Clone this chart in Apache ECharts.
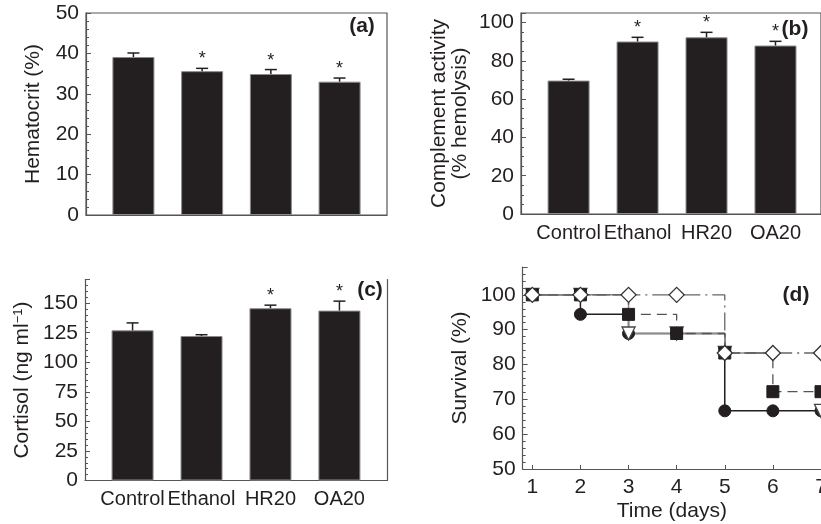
<!DOCTYPE html>
<html>
<head>
<meta charset="utf-8">
<script src="https://cdn.jsdelivr.net/npm/echarts@6/dist/echarts.min.js"></script>
<style>
  html, body { margin: 0; padding: 0; background: #fff; }
  #chart { width: 821px; height: 524px; }
</style>
</head>
<body>
<div id="chart"></div>
<script>
// 数据
const groups = ['Control', 'Ethanol', 'HR20', 'OA20'];

const hematocrit = [39.1, 35.6, 34.9, 33.0];
const hematocritErr = [1.0, 0.7, 1.1, 0.9];
const hematocritSig = [0, 1, 1, 1];

const complement = [69.7, 90.1, 92.3, 88.0];
const complementErr = [0.7, 2.2, 2.6, 2.2];
const complementSig = [0, 1, 1, 1];

const cortisol = [127.0, 122.2, 145.7, 143.7];
const cortisolErr = [6.3, 1.1, 2.6, 8.0];
const cortisolSig = [0, 0, 1, 1];

const days = [1, 2, 3, 4, 5, 6, 7];
const survCircle = [100, 94.4, 88.9, 88.9, 66.7, 66.7, 66.7];
const survTriangle = [100, 100, 88.9, 88.9, 83.3, null, 66.7];
const survSquare = [100, 100, 94.4, 88.9, 83.3, 72.2, 72.2];
const survDiamond = [100, 100, 100, 100, 83.3, 83.3, 83.3];

const FONT = "'Liberation Sans', Arial, sans-serif";
const INK = '#231f20';
const AXIS = '#555';

const axisLine = { show: true, onZero: false, lineStyle: { color: AXIS, width: 1.2 } };

// 柱状图的x轴（数值轴，类别放在1..4）
function barX(gridIndex, showLabels, max) {
  return {
    type: 'value', gridIndex, min: 0.31, max: max,
    axisLine,
    axisTick: { show: false },
    splitLine: { show: false },
    axisLabel: {
      show: showLabels, customValues: [1, 2, 3, 4], interval: 0,
      showMinLabel: true, showMaxLabel: true, hideOverlap: false,
      formatter: v => groups[Math.round(v) - 1] || '',
      color: INK, fontSize: 20, fontFamily: FONT, margin: 9
    }
  };
}

function valY(gridIndex, min, max, interval, minorSplit, name, nameGap) {
  return {
    type: 'value', gridIndex, min, max, interval,
    name, nameLocation: 'middle', nameGap,
    nameTextStyle: { color: INK, fontSize: 21, fontFamily: FONT },
    axisLine,
    axisTick: { show: true, inside: true, length: 5, lineStyle: { color: AXIS } },
    minorTick: { show: true, splitNumber: minorSplit, length: 3, lineStyle: { color: AXIS } },
    splitLine: { show: false },
    axisLabel: {
      color: INK, fontSize: 21, fontFamily: FONT, margin: 7,
      formatter: v => ((v - min) % interval === 0 ? String(v) : '')
    }
  };
}

function barSeries(idx, values) {
  return {
    type: 'bar', xAxisIndex: idx, yAxisIndex: idx, barWidth: 42,
    itemStyle: { color: INK, borderColor: '#8a8a8a', borderWidth: 1 },
    data: values.map((v, i) => [i + 1, v]),
    z: 2
  };
}

// 误差线 + 星号
function errSeries(idx, values, errs, sig) {
  return {
    type: 'custom', xAxisIndex: idx, yAxisIndex: idx, z: 3,
    data: values.map((v, i) => [i + 1, v, errs[i], sig[i]]),
    renderItem: (params, api) => {
      const x = api.value(0), m = api.value(1), e = api.value(2);
      const p0 = api.coord([x, m]);
      const p1 = api.coord([x, m + e]);
      const st = { stroke: INK, lineWidth: 1.5 };
      const children = [
        { type: 'line', shape: { x1: p0[0], y1: p0[1], x2: p1[0], y2: p1[1] }, style: st },
        { type: 'line', shape: { x1: p1[0] - 6, y1: p1[1], x2: p1[0] + 6, y2: p1[1] }, style: st }
      ];
      if (api.value(3)) {
        children.push({
          type: 'text', x: p1[0], y: p1[1] - 9,
          style: { text: '*', fill: INK, font: '18px ' + FONT, align: 'center', verticalAlign: 'middle' }
        });
      }
      return { type: 'group', children };
    }
  };
}

function survSeries(values, symbol, opts) {
  return Object.assign({
    type: 'line', xAxisIndex: 3, yAxisIndex: 3, step: 'end',
    symbol, symbolSize: 12, showAllSymbol: true,
    data: days.map((d, i) => [d, values[i]])
  }, opts);
}

const chart = echarts.init(document.getElementById('chart'), null, { renderer: 'canvas' });

const gridBase = { outerBoundsMode: 'none', containLabel: false };

const option = {
  animation: false,
  backgroundColor: '#fff',
  textStyle: { fontFamily: FONT },
  grid: [
    Object.assign({ left: 86, top: 13, width: 301, height: 202, show: true, borderColor: AXIS, borderWidth: 1.2, backgroundColor: 'transparent' }, gridBase),
    Object.assign({ left: 521, top: 13, width: 300, height: 201, show: true, borderColor: AXIS, borderWidth: 1.2, backgroundColor: 'transparent' }, gridBase),
    Object.assign({ left: 85, top: 279.5, width: 302, height: 201 }, gridBase),
    Object.assign({ left: 522.7, top: 267, width: 298.3, height: 202 }, gridBase)
  ],
  xAxis: [
    barX(0, false, 4.69),
    barX(1, true, 4.66),
    barX(2, true, 4.69),
    {
      type: 'value', gridIndex: 3, min: 0.8, max: 7.0,
      name: 'Time (days)', nameLocation: 'middle', nameGap: 32,
      nameTextStyle: { color: INK, fontSize: 21, fontFamily: FONT },
      axisLine,
      axisTick: { show: true, inside: true, length: 4, customValues: days, lineStyle: { color: AXIS } },
      splitLine: { show: false },
      axisLabel: { customValues: days, interval: 0, showMaxLabel: true, hideOverlap: false, color: INK, fontSize: 21, fontFamily: FONT, margin: 8 }
    }
  ],
  yAxis: [
    valY(0, 0, 50, 10, 5, 'Hematocrit (%)', 42),
    valY(1, 0, 105, 20, 4, 'Complement activity\n(% hemolysis)', 50),
    Object.assign(valY(2, 0, 170, 25, 5, 'Cortisol (ng ml{sup|−1})', 52), {
      nameTextStyle: { color: INK, fontSize: 21, fontFamily: FONT, rich: { sup: { fontSize: 13, verticalAlign: 'top', color: INK, fontFamily: FONT } } }
    }),
    valY(3, 50, 108, 10, 5, 'Survival (%)', 52),
    {
      type: 'value', gridIndex: 2, position: 'right', min: 0, max: 170,
      axisLine: { show: true, lineStyle: { color: AXIS, width: 1.2 } },
      axisTick: { show: false }, axisLabel: { show: false }, splitLine: { show: false }
    }
  ],
  series: [
    barSeries(0, hematocrit),
    errSeries(0, hematocrit, hematocritErr, hematocritSig),
    barSeries(1, complement),
    errSeries(1, complement, complementErr, complementSig),
    barSeries(2, cortisol),
    errSeries(2, cortisol, cortisolErr, cortisolSig),
    survSeries(survCircle, 'circle', {
      itemStyle: { color: INK, borderColor: INK },
      lineStyle: { color: INK, width: 1.5, type: 'solid' }
    }),
    survSeries(survTriangle, 'triangle', {
      symbolRotate: 180, symbolSize: 13, connectNulls: false,
      itemStyle: { color: '#fff', borderColor: '#444', borderWidth: 1.3 },
      lineStyle: { color: '#8c8c8c', width: 1.5, type: 'solid' }
    }),
    survSeries(survSquare, 'rect', {
      itemStyle: { color: INK, borderColor: INK },
      lineStyle: { color: '#555', width: 1.3, type: [10, 6] }
    }),
    survSeries(survDiamond, 'diamond', {
      symbolSize: [15, 15],
      itemStyle: { color: '#fff', borderColor: '#333', borderWidth: 1.3 },
      lineStyle: { color: '#666', width: 1.3, type: [18, 5, 2, 5] }
    })
  ],
  graphic: [
    { type: 'text', x: 362, y: 26, style: { text: '(a)', fill: INK, font: 'bold 21px ' + FONT, align: 'center', verticalAlign: 'middle' } },
    { type: 'text', x: 795, y: 29, style: { text: '(b)', fill: INK, font: 'bold 21px ' + FONT, align: 'center', verticalAlign: 'middle' } },
    { type: 'text', x: 370, y: 290, style: { text: '(c)', fill: INK, font: 'bold 21px ' + FONT, align: 'center', verticalAlign: 'middle' } },
    { type: 'text', x: 796, y: 295, style: { text: '(d)', fill: INK, font: 'bold 21px ' + FONT, align: 'center', verticalAlign: 'middle' } }
  ]
};

chart.setOption(option);
</script>
</body>
</html>
